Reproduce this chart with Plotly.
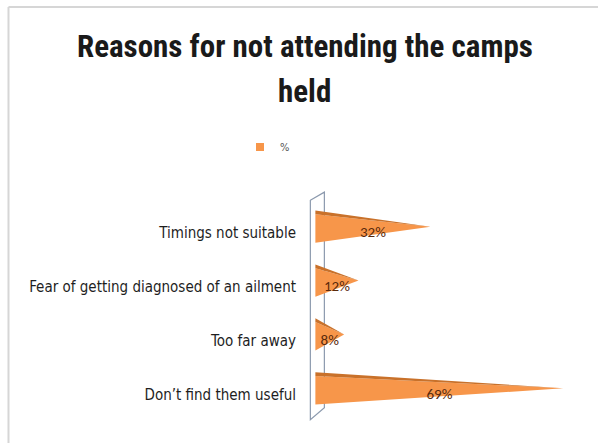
import plotly.graph_objects as go

# ---- data ----
categories = ["Don\u2019t find them useful", "Too far away",
              "Fear of getting diagnosed of an ailment", "Timings not suitable"]
values = [69, 8, 12, 32]
value_labels = ["69%", "8%", "12%", "32%"]
series_name = "%"
title_lines = ["Reasons for not attending the camps", "held"]

# ---- style ----
FRONT = "#F7964A"
TOP = "#C9712A"
HALF = 0.30
LIFT = 0.12
TOPBAND = 0.07
TITLE_FONT = "Roboto Condensed, Lato, sans-serif"
TICK_FONT = "DejaVu Sans Condensed, Liberation Sans, sans-serif"
LABEL_FONT = "Carlito, DejaVu Sans Condensed, sans-serif"

fig = go.Figure()

# legend entry
fig.add_trace(go.Scatter(x=[None], y=[None], mode="markers", name=series_name,
                         marker=dict(symbol="square", size=8, color=FRONT), hoverinfo="skip"))

for i, (cat, v) in enumerate(zip(categories, values)):
    c = i + LIFT
    fig.add_trace(go.Scatter(
        x=[0, 0, v, 0], y=[c + HALF - TOPBAND, c - HALF, c, c + HALF - TOPBAND],
        fill="toself", fillcolor=FRONT, mode="lines", line=dict(width=0, color=FRONT),
        showlegend=False, hoverinfo="skip"))
    fig.add_trace(go.Scatter(
        x=[0, 0, v, 0], y=[c + HALF, c + HALF - TOPBAND, c, c + HALF],
        fill="toself", fillcolor=TOP, mode="lines", line=dict(width=0, color=TOP),
        showlegend=False, hoverinfo="skip"))

fig.add_trace(go.Scatter(
    x=[v / 2 for v in values], y=list(range(len(values))),
    mode="text", text=value_labels,
    textfont=dict(family=LABEL_FONT, size=15, color="#5A2A0C"),
    showlegend=False, hoverinfo="skip"))

wall = "#8C9AAE"
fig.add_shape(type="path", path="M -1.4 3.61 L 2.5 3.76 L 2.5 -0.24 L -1.4 -0.46 Z",
              xref="x", yref="y", line=dict(color=wall, width=1.2),
              fillcolor="rgba(255,255,255,0)", layer="below")

fig.add_shape(type="line", xref="paper", yref="paper", x0=-1.03, x1=1.05, y0=1.779, y1=1.779,
              line=dict(color="#D6D6D6", width=2))
fig.add_shape(type="line", xref="paper", yref="paper", x0=-1.03, x1=-1.03, y0=1.779, y1=-0.1,
              line=dict(color="#D6D6D6", width=2))

for txt, yp in zip(title_lines, [1.609, 1.421]):
    fig.add_annotation(text=txt, xref="paper", yref="paper", x=0.014, y=yp,
                       xanchor="center", yanchor="middle", showarrow=False,
                       font=dict(family=TITLE_FONT, size=31, color="#1a1a1a", weight="bold"))

fig.update_layout(
    width=598, height=443,
    margin=dict(l=301, r=13, t=190, b=18),
    paper_bgcolor="white", plot_bgcolor="white",
    legend=dict(orientation="h", xref="container", yref="container",
                x=240 / 598, y=1 - 147 / 443, xanchor="left", yanchor="middle",
                itemwidth=30,
                font=dict(family=TICK_FONT, size=11, color="#555555")),
    xaxis=dict(range=[-4, 75], visible=False, showgrid=False, zeroline=False),
    yaxis=dict(range=[-0.56, 3.8], tickvals=list(range(len(categories))),
               ticktext=categories, showgrid=False, zeroline=False, showline=False,
               ticks="", ticklabelstandoff=4,
               tickfont=dict(family=TICK_FONT, size=15, color="#1e1e1e")),
    showlegend=True,
)

fig.write_html("out.html", post_script="document.body.style.margin='0';",
               config={"displayModeBar": False})
